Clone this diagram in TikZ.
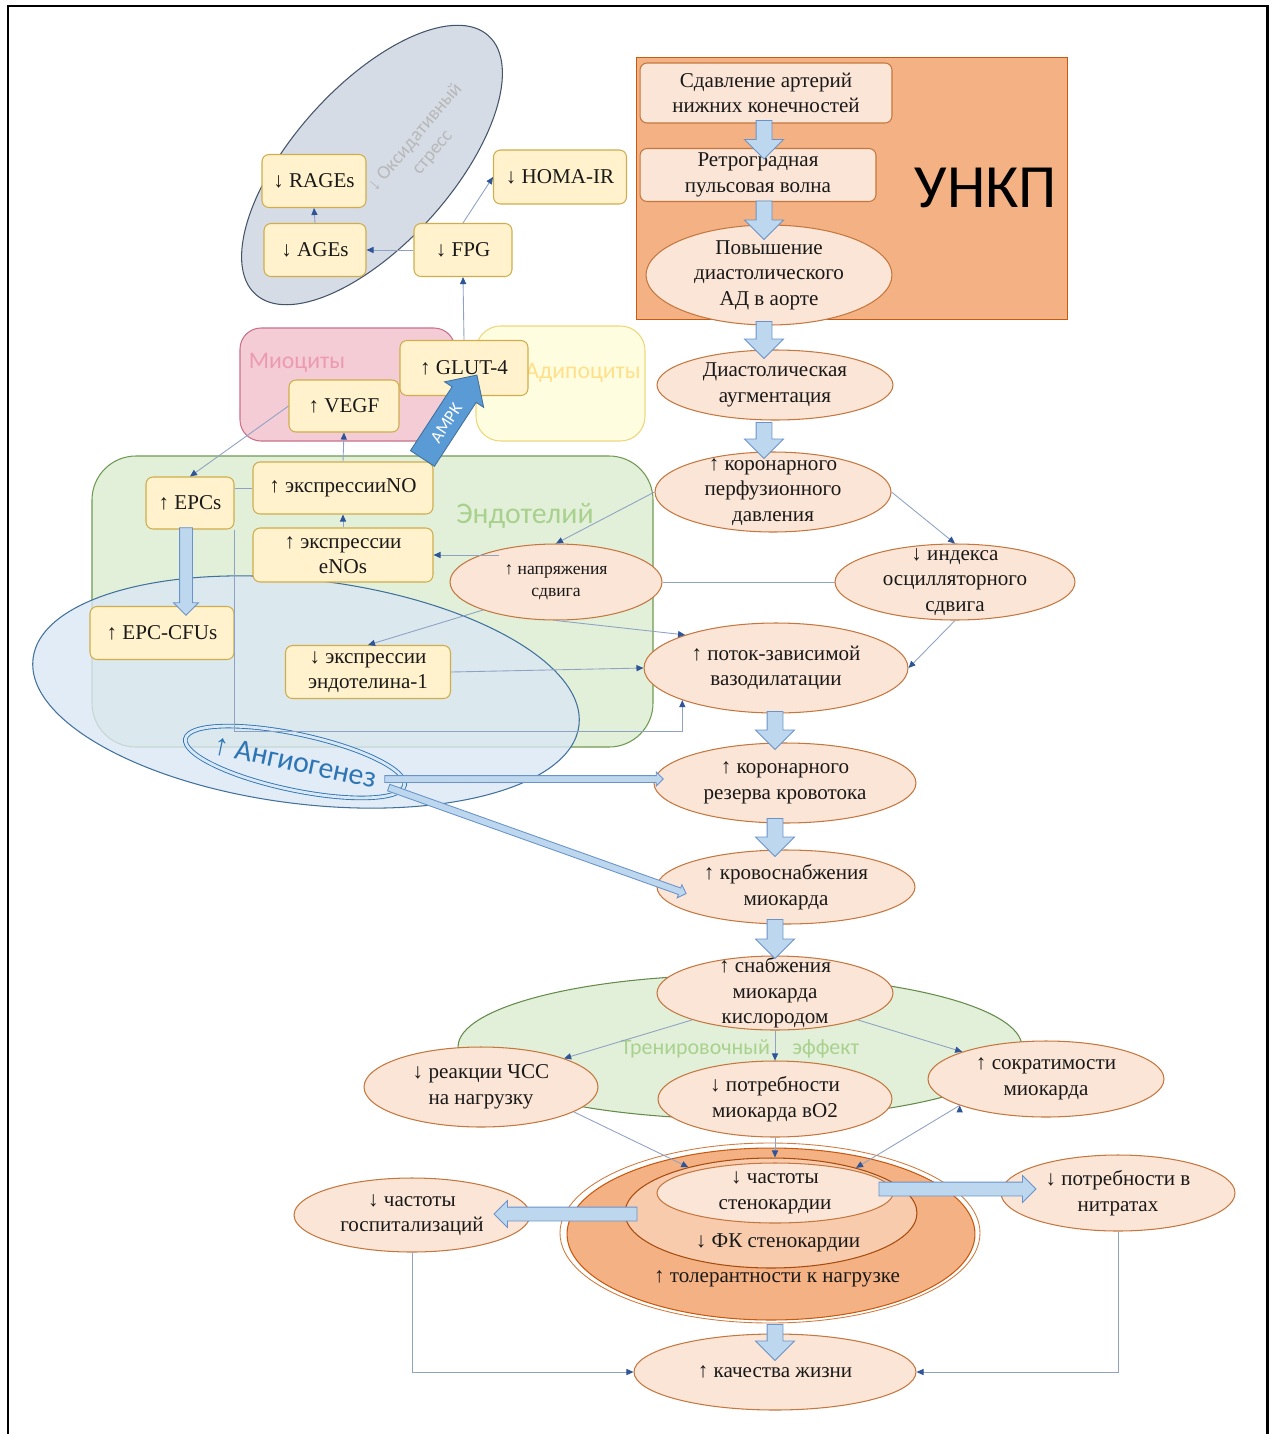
\documentclass[tikz,border=0pt]{standalone}
\usepackage{fontspec}
\setmainfont{Liberation Serif}
\newfontfamily\calib{Carlito}
\usetikzlibrary{shapes.geometric,shapes.arrows,arrows.meta,calc}

\definecolor{ovalfill}{HTML}{FBE5D6}
\definecolor{ovaledge}{HTML}{C5773F}
\definecolor{boxfill}{HTML}{FFF2CC}
\definecolor{boxedge}{HTML}{D0AC4C}
\definecolor{grayfill}{HTML}{D6DCE5}
\definecolor{grayedge}{HTML}{44546A}
\definecolor{pinkfill}{HTML}{F4CCD6}
\definecolor{pinkedge}{HTML}{C8708A}
\definecolor{pinktext}{HTML}{EC9AB2}
\definecolor{adipfill}{HTML}{FFFDE0}
\definecolor{adipedge}{HTML}{EDD77B}
\definecolor{adiptext}{HTML}{FFE08A}
\definecolor{endfill}{HTML}{E2F0D9}
\definecolor{endedge}{HTML}{6F9A52}
\definecolor{endtext}{HTML}{A9D18E}
\definecolor{bluefill}{HTML}{DAE7F4}
\definecolor{blueedge}{HTML}{41719C}
\definecolor{angblue}{HTML}{2E75B6}
\definecolor{orfill}{HTML}{F4B183}
\definecolor{oredge}{HTML}{C55A11}
\definecolor{fkfill}{HTML}{F8CBAD}
\definecolor{linkc}{HTML}{8FA2C4}
\definecolor{tipc}{HTML}{2F5597}
\definecolor{blockfill}{HTML}{BDD7EE}
\definecolor{blockedge}{HTML}{6A93CB}
\definecolor{ampkfill}{HTML}{5B9BD5}

\tikzstyle{box}=[rectangle, rounded corners=4pt, draw=boxedge, fill=boxfill, line width=0.6pt,
  font=\fontsize{12}{14.5}\selectfont, align=center, inner sep=1pt, text=black!90]
\tikzstyle{pbox}=[box, draw=ovaledge, fill=ovalfill]
\tikzstyle{oval}=[ellipse, draw=ovaledge, fill=ovalfill, line width=0.6pt,
  font=\fontsize{12}{14.5}\selectfont, align=center, inner sep=-1cm, text=black!90]
\tikzstyle{txt}=[font=\fontsize{12}{14.5}\selectfont, align=center, text=black!90]
\tikzstyle{tag}=[font=\calib\fontsize{14}{16}\selectfont, align=center]
\tikzstyle{link}=[draw=linkc, line width=0.5pt, -{Triangle[length=4pt,width=3.5pt,color=tipc]}]
\tikzstyle{plain}=[draw=linkc, line width=0.5pt]
\tikzstyle{fatarrow}=[single arrow, draw=blockedge, fill=blockfill, line width=0.5pt,
  inner xsep=0pt, inner ysep=0.15cm, single arrow tip angle=90,
  single arrow head extend=0.23cm, minimum width=0.76cm]
\tikzstyle{fatmid}=[fatarrow, inner ysep=0.13cm, single arrow head extend=0.13cm, minimum width=0.52cm]
\tikzstyle{fatcfu}=[fatarrow, inner ysep=0.12cm, single arrow head extend=0.12cm, minimum width=0.48cm]
\tikzstyle{fatthin}=[fatarrow, inner ysep=0.06cm, single arrow head extend=0.07cm, minimum width=0.26cm]
\tikzstyle{fatbig}=[fatarrow, fill=ampkfill, draw=blueedge, text height=7pt, text depth=0pt,
  inner ysep=4.4pt, single arrow head extend=0.18cm, minimum width=0.92cm,
  font=\calib\fontsize{10}{12}\selectfont, text=white]

% block arrow from #2 to #3, text #4
\newcommand\fat[4][fatarrow]{%
  \coordinate (fa) at #2; \coordinate (fb) at #3;
  \path let \p1=($(fb)-(fa)$), \n1={veclen(\x1,\y1)} in
    (fa) -- (fb) node[midway, sloped, allow upside down, #1, minimum height=\n1] {#4};}

\begin{document}
\begin{tikzpicture}[x=0.02cm, y=-0.02cm]
\useasboundingbox (0,0) rectangle (1275,1434);
\draw[line width=1.7pt] (8,1434) -- (8,6) -- (1267,6) -- (1267,1434);

% regions
\draw[fill=grayfill, draw=grayedge, line width=0.6pt, rotate around={48:(372,165)}] (372,165) ellipse (174 and 79);
\node[tag, text=black!28, rotate=50, font=\calib\fontsize{11}{13}\selectfont] (oxid) at (424,145) {{\rmfamily ↓} Оксидативный\\стресс};

\draw[fill=pinkfill, draw=pinkedge, line width=0.6pt, rounded corners=12pt] (240,328) rectangle (455,441);
\draw[fill=adipfill, draw=adipedge, line width=0.6pt, rounded corners=14pt] (476,326) rectangle (645,441);
\node[tag, text=pinktext, font=\calib\fontsize{13.5}{16}\selectfont] (myo) at (297,363) {Миоциты};
\node[tag, text=adiptext, font=\calib\fontsize{13.5}{16}\selectfont] (adipo) at (583,373) {Адипоциты};

\draw[fill=endfill, draw=endedge, line width=0.6pt, rounded corners=25pt] (92,456) rectangle (653,747);
\node[tag, text=endtext, font=\calib\fontsize{17}{20}\selectfont] (endo) at (525,516) {Эндотелий};

\draw[fill=bluefill, fill opacity=0.8, draw=blueedge, line width=0.6pt, rotate around={-7:(306,692)}] (306,692) ellipse (275 and 112);
\node[ellipse, rotate=-12, draw=angblue, double=bluefill, double distance=1.6pt, line width=0.5pt,
  minimum width=4.48cm, minimum height=1.12cm, inner sep=-1cm, text=angblue,
  font=\calib\fontsize{17}{20}\selectfont] (angio) at (295,762) {{\rmfamily ↑} Ангиогенез};

\draw[fill=orfill, draw=oredge, line width=0.5pt] (636,57) rectangle (1067,319);
\node[font=\calib\fontsize{35}{40}\selectfont] (unkp) at (986,188) {УНКП};

\draw[fill=endfill, draw=endedge!90!black, line width=0.6pt] (740,1047) ellipse (282 and 72);
\node[tag, text=endtext, font=\calib\fontsize{12.5}{15}\selectfont] (train) at (740,1049) {Тренировочный\hspace{0.45cm}эффект};

\draw[draw=oredge!80, line width=0.5pt] (770,1233) ellipse (210 and 90);
\node[ellipse, fill=orfill, draw=oredge, line width=0.6pt, minimum width=8.16cm, minimum height=3.44cm] (tol) at (771,1234) {};
\node[ellipse, fill=fkfill, draw=oredge!85!black, line width=0.6pt, minimum width=5.84cm, minimum height=2.2cm] (fk) at (771,1213) {};
\node[txt] (fktext) at (778,1243) {↓ ФК стенокардии};
\node[txt] (toltext) at (777,1279) {↑ толерантности к нагрузке};

% metabolic boxes
\node[box, minimum width=2.08cm, minimum height=1.06cm] (rages) at (314,181) {↓ RAGEs};
\node[box, minimum width=2.04cm, minimum height=1.06cm] (ages) at (315,250) {↓ AGEs};
\node[box, minimum width=1.96cm, minimum height=1.06cm] (fpg) at (463,250) {↓ FPG};
\node[box, minimum width=2.66cm, minimum height=1.08cm] (homa) at (560,177) {↓ HOMA-IR};
\node[box, minimum width=2.56cm, minimum height=1.1cm] (glut) at (464,368) {↑ GLUT-4};
\node[box, minimum width=2.2cm, minimum height=1.04cm] (vegf) at (344,406) {↑ VEGF};
\node[box, minimum width=1.76cm, minimum height=1.04cm] (epcs) at (190,503) {↑ EPCs};
\node[box, minimum width=3.6cm, minimum height=1.04cm] (no) at (343,488) {↑ экспрессииNO};
\node[box, minimum width=3.6cm, minimum height=1.08cm] (enos) at (343,555) {↑ экспрессии\\eNOs};
\node[box, minimum width=2.88cm, minimum height=1.06cm] (cfu) at (162,633) {↑ EPC-CFUs};
\node[box, minimum width=3.3cm, minimum height=1.06cm] (et1) at (368,672) {↓ экспрессии\\эндотелина-1};

% main chain
\node[pbox, minimum width=5.04cm, minimum height=1.2cm] (compress) at (766,93) {Сдавление артерий\\нижних конечностей};
\node[pbox, minimum width=4.72cm, minimum height=1.06cm] (retro) at (758,175) {Ретроградная\\пульсовая волна};
\node[oval, minimum width=4.92cm, minimum height=2cm] (rise) at (769,275) {Повышение\\диастолического\\АД в аорте};
\node[oval, minimum width=4.72cm, minimum height=1.4cm] (diast) at (775,385) {Диастолическая\\аугментация};
\node[oval, minimum width=4.72cm, minimum height=1.6cm] (perf) at (773,492) {↑ коронарного\\перфузионного\\давления};
\node[oval, minimum width=4.8cm, minimum height=1.52cm] (osc) at (955,582) {↓ индекса\\осцилляторного\\сдвига};
\node[oval, minimum width=4.24cm, minimum height=1.52cm, font=\fontsize{10}{12.5}\selectfont] (shear) at (556,582) {↑ напряжения\\сдвига};
\node[oval, minimum width=5.28cm, minimum height=1.8cm] (fmd) at (776,668) {↑ поток-зависимой\\вазодилатации};
\node[oval, minimum width=5.24cm, minimum height=1.6cm] (reserve) at (785,783) {↑ коронарного\\резерва кровотока};
\node[oval, minimum width=5.16cm, minimum height=1.48cm] (supply) at (786,887) {↑ кровоснабжения\\миокарда};
\node[oval, minimum width=4.72cm, minimum height=1.48cm] (oxy) at (775,993) {↑ снабжения\\миокарда\\кислородом};
\node[oval, minimum width=4.68cm, minimum height=1.6cm] (hr) at (481,1087) {↓ реакции ЧСС\\на нагрузку};
\node[oval, minimum width=4.68cm, minimum height=1.52cm] (demand) at (775,1099) {↓ потребности\\миокарда вO2};
\node[oval, minimum width=4.72cm, minimum height=1.52cm] (contr) at (1046,1079) {↑ сократимости\\миокарда};
\node[oval, minimum width=4.72cm, minimum height=1.2cm] (angina) at (775,1193) {↓ частоты\\стенокардии};
\node[oval, minimum width=4.72cm, minimum height=1.48cm] (hosp) at (412,1215) {↓ частоты\\госпитализаций};
\node[oval, minimum width=4.68cm, minimum height=1.52cm] (nitr) at (1118,1193) {↓ потребности в\\нитратах};
\node[oval, minimum width=5.64cm, minimum height=1.52cm] (qual) at (775,1372) {↑ качества жизни};

% thin connectors
\path[link] (ages.north) edge (rages.south)
  (fpg.west) edge (ages.east)
  (fpg.north) edge (homa.west)
  (glut.north) edge (fpg.south)
  (no.north) edge (vegf.south)
  (vegf.west) edge (epcs.north)
  (enos.north) edge (no.south)
  (enos.east -| shear.150) edge (enos.east)
  (perf.west) edge (shear.north)
  (perf.east) edge (osc.north)
  (osc.south) edge (fmd.east)
  (shear.south) edge (fmd.160)
  (shear.201) edge (et1.north)
  (et1.east) edge (fmd.west)
  (oxy.198) edge (hr.19)
  (oxy.south) edge (demand.north)
  (oxy.-18) edge (contr.162)
  (hr.-15) edge (fk.151)
  (contr.197) edge (fk.28);
\draw[link] (demand.south) -- (demand.south |- fk.north);
\draw[link] (hosp.south) |- (qual.west);
\draw[link] (nitr.south) |- (qual.east);
\draw[link] (epcs.south east) -- (epcs.south east |- 0,731) -| (fmd.south west);
\draw[plain] (no.west) -- (no.west -| epcs.east);
\draw[plain] (shear.east) -- (osc.west);

% block arrows
\fat{($(compress.south)+(-2,-7)$)}{($(retro.north)+(6,7)$)}{}
\fat{($(retro.south)+(6,-5)$)}{($(rise.north)+(-5,11)$)}{}
\fat{($(rise.south)+(-5,-8)$)}{($(diast.north)+(-11,5)$)}{}
\fat{($(diast.south)+(-11,-2)$)}{($(perf.north)+(-9,3)$)}{}
\fat{($(fmd.south)+(-1,-6)$)}{($(reserve.north)+(-10,3)$)}{}
\fat{($(reserve.south)+(-10,-9)$)}{($(supply.north)+(-11,3)$)}{}
\fat{($(supply.south)+(-11,-9)$)}{($(oxy.north)+(0,-1)$)}{}
\fat{($(tol.south)+(4,0)$)}{($(qual.north)+(0,23)$)}{}
\fat[fatmid]{($(angina.east)+(-18,-4)$)}{($(nitr.west)+(32,-4)$)}{}
\fat[fatmid]{($(fk.west)+(16,1)$)}{($(hosp.east)+(-33,-1)$)}{}
\fat[fatcfu]{($(epcs.south)+(-4,-5)$)}{($(cfu.north)+(24,6)$)}{}
\fat[fatthin]{($(angio.center)+(88,17)$)}{($(reserve.west)+(8,-4)$)}{}
\fat[fatthin]{($(angio.center)+(92,25)$)}{($(supply.west)+(28,6)$)}{}
\fat[fatbig]{($(no.north east)+(-15,3)$)}{($(glut.south)+(9,-15)$)}{AMPK}
\end{tikzpicture}
\end{document}
